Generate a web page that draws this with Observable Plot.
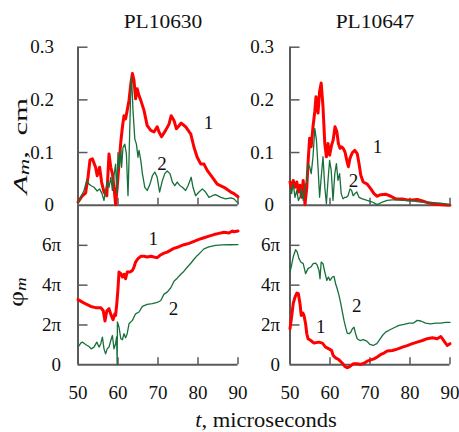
<!DOCTYPE html>
<html><head><meta charset="utf-8">
<script src="https://cdn.jsdelivr.net/npm/d3@7"></script>
<script src="https://cdn.jsdelivr.net/npm/@observablehq/plot@0.6"></script>
<style>
body{margin:0;background:#fff;}
#chart{position:relative;width:459px;height:432px;color:#111;overflow:hidden;font-family:"Liberation Serif",serif;}
#chart svg{position:absolute;}
.lbl{position:absolute;white-space:nowrap;line-height:1;font-family:"Liberation Serif",serif;}
</style></head><body><div id="chart"></div>
<script>
// ---------- data ----------
const panelTitles = ["PL10630", "PL10647"];
const tTicks = [50, 60, 70, 80, 90];
const ampTicks = [0, 0.1, 0.2, 0.3];
const phaseTicks = [0, 2, 4, 6]; // in units of π

// amplitude A_m (cm) vs t (microseconds): [t, A]
const amp1_PL10630 = [[50,0.006],[51.1,0.018],[51.9,0.023],[52.5,0.053],[53,0.086],[53.6,0.088],[54.4,0.072],[54.8,0.056],[55.4,0.072],[55.9,0.044],[56.5,0.025],[57.2,0.018],[57.75,0.097],[58.2,0.072],[58.6,0.06],[59,0.034],[59.4,0.001],[59.8,0.034],[60.25,0.078],[60.7,0.12],[61.1,0.148],[61.5,0.17],[61.9,0.164],[62.3,0.18],[62.75,0.199],[63.2,0.23],[63.6,0.25],[64,0.237],[64.4,0.202],[64.8,0.221],[65.25,0.208],[65.7,0.199],[66.5,0.18],[67.3,0.151],[68.2,0.142],[69,0.139],[69.8,0.149],[70.25,0.139],[70.9,0.13],[71.9,0.142],[72.75,0.154],[73.3,0.17],[74,0.161],[74.6,0.145],[75.25,0.151],[75.8,0.156],[76.9,0.149],[78.2,0.135],[79,0.11],[79.8,0.091],[80.7,0.078],[81.5,0.078],[82.3,0.066],[83.6,0.053],[84.8,0.04],[86.5,0.034],[88.2,0.025],[89,0.022],[90,0.016]];
const amp2_PL10630 = [[50,0.004],[50.7,0.015],[51.5,0.028],[52.2,0.047],[52.75,0.04],[53.3,0.037],[54,0.034],[54.8,0.027],[55.4,0.031],[56,0.022],[56.5,0.009],[56.9,0.028],[57.3,0.044],[57.75,0.034],[58.2,0.053],[58.6,0.028],[59,0.056],[59.4,0.078],[59.7,0.022],[60,0.1],[60.3,0.072],[60.7,0.104],[60.9,0.072],[61.25,0.11],[61.7,0.116],[62.1,0.097],[62.5,0.018],[62.75,0.085],[63.2,0.224],[63.4,0.243],[63.75,0.18],[64.2,0.126],[64.6,0.116],[65,0.091],[65.25,0.104],[65.7,0.085],[66.1,0.06],[66.7,0.034],[67.3,0.028],[68,0.04],[68.6,0.056],[69.2,0.063],[69.8,0.053],[70.4,0.025],[71.1,0.047],[71.7,0.06],[72.3,0.065],[73,0.06],[73.6,0.044],[74.2,0.037],[74.8,0.044],[75.5,0.037],[76.1,0.034],[76.9,0.028],[77.5,0.037],[78,0.047],[78.3,0.053],[78.75,0.034],[79.4,0.018],[80.25,0.025],[81.1,0.031],[81.9,0.025],[82.75,0.015],[83.6,0.018],[84.4,0.02],[85.7,0.015],[86.9,0.012],[88.2,0.014],[89,0.012],[90,0.004]];
const amp1_PL10647 = [[50,0.044],[50.4,0.031],[50.8,0.047],[51.25,0.034],[51.7,0.044],[52.1,0.025],[52.5,0.038],[52.9,0.015],[53.3,0.047],[53.75,0.001],[54.2,0.034],[54.5,0.079],[54.9,0.127],[55.3,0.111],[55.75,0.149],[56.2,0.178],[56.5,0.206],[57,0.175],[57.4,0.216],[57.8,0.232],[58.25,0.187],[58.7,0.117],[59.1,0.092],[59.5,0.117],[59.9,0.095],[60.4,0.114],[60.8,0.124],[61.25,0.149],[61.7,0.14],[62.1,0.117],[62.5,0.108],[62.9,0.111],[63.3,0.108],[63.75,0.101],[64.2,0.085],[64.6,0.073],[65,0.089],[65.6,0.1],[66.2,0.104],[66.8,0.098],[67.25,0.079],[67.7,0.057],[68.3,0.044],[69.3,0.04],[70.2,0.031],[71,0.022],[71.8,0.017],[72.7,0.02],[73.9,0.021],[75.2,0.017],[76.4,0.012],[78.1,0.012],[79.3,0.01],[80.6,0.01],[81.8,0.011],[83.1,0.008],[84.75,0.004],[86.4,0.002],[88.1,0.001],[90,0]];
const amp2_PL10647 = [[50,0.034],[50.4,0.022],[50.8,0.041],[51.25,0.015],[51.7,0.028],[52.1,0.009],[52.5,0.015],[52.9,0.031],[53.3,0.009],[53.75,0.034],[54.2,0.047],[54.5,0.079],[54.9,0.073],[55.3,0.06],[55.75,0.092],[56.2,0.146],[56.6,0.124],[57,0.073],[57.4,0.015],[57.8,0.053],[58.25,0.092],[58.7,0.034],[59.1,0.003],[59.5,0.047],[59.9,0.085],[60.3,0.066],[60.75,0.009],[61.2,0.06],[61.6,0.079],[62,0.047],[62.4,0.06],[62.8,0.022],[63.25,0.012],[63.7,0.015],[64.1,0.015],[64.5,0.018],[65,0.031],[65.4,0.028],[65.8,0.018],[66.25,0.022],[66.7,0.025],[67.25,0.015],[68.1,0.012],[69.3,0.009],[70.6,0.006],[71.8,0.001],[73.1,0.006],[74.3,0.009],[75.6,0.01],[76.8,0.01],[78.1,0.009],[79.3,0.009],[81,0.008],[82.7,0.006],[84.3,0.006],[86,0.005],[87.7,0.004],[90,0.001]];

// phase φ_m (units of π) vs t (microseconds): [t, φ/π]
const phase1_PL10630 = [[50,3.27],[51.1,3.15],[52.2,3.03],[53.2,2.93],[54.4,2.87],[55.7,2.87],[56.3,2.73],[56.75,2.2],[57.2,2.7],[57.75,2.82],[58.3,2.48],[58.75,2.26],[59.2,2.56],[59.4,2.48],[59.7,3.07],[60,3.82],[60.25,4.66],[60.7,4.58],[61.1,4.41],[61.5,4.54],[61.9,4.32],[62.3,4.66],[63,4.66],[63.6,4.74],[64,4.91],[64.4,5.16],[65,5.33],[65.7,5.45],[66.5,5.45],[67.3,5.41],[68.2,5.45],[69,5.41],[69.8,5.38],[70.5,5.5],[71.5,5.61],[72.3,5.66],[73.2,5.76],[74,5.85],[75.25,5.93],[76.5,6.03],[77.75,6.1],[79,6.2],[80.25,6.3],[81.5,6.38],[82.75,6.46],[84,6.54],[85.25,6.6],[86.5,6.66],[87.75,6.62],[88.6,6.72],[89,6.68],[90,6.72]];
const phase2_PL10630 = [[50,0.89],[50.7,1.09],[51.1,1.14],[51.9,1.02],[52.75,0.92],[53.3,0.8],[54,0.89],[54.7,1.14],[55.25,0.89],[55.7,1.06],[56.1,1.39],[56.5,0.8],[56.9,0.55],[57.3,0.8],[57.75,0.89],[58.2,1.22],[58.6,1.47],[59,0.8],[59.4,1.06],[59.65,1.4],[59.8,0],[59.85,2.15],[60.25,1.89],[60.7,1.31],[61.1,1.26],[61.5,1.56],[61.9,1.36],[62.3,1.56],[62.75,2.06],[63.6,2.23],[64.4,2.56],[65.25,2.65],[66.1,2.93],[67.3,3.03],[68.6,3.07],[69.8,3.13],[70.7,3.23],[71.5,3.55],[72.3,3.65],[73.2,3.87],[74,4.2],[74.8,4.35],[75.7,4.55],[76.5,4.7],[77.3,4.9],[78.2,5.1],[79,5.3],[79.8,5.48],[80.7,5.66],[81.5,5.82],[82.7,5.92],[84.4,6.0],[86,6.02],[88,6.03],[90,6.04]];
const phase1_PL10647 = [[50,1.81],[50.4,2.4],[50.8,3.07],[51.25,3.4],[51.7,3.6],[52.1,3.57],[52.5,3.07],[52.8,2.48],[53.2,2.6],[53.5,2.48],[53.9,2.06],[54.2,1.56],[54.5,1.31],[55.2,1.22],[56,1.09],[57.25,1.14],[58.1,1.09],[58.9,0.89],[59.75,0.8],[60.4,0.72],[60.8,0.47],[61.4,0.35],[62.25,0.25],[63.1,0.08],[63.7,-0.08],[64.3,-0.15],[65,-0.08],[65.8,0.05],[66.8,0.05],[67.7,0.02],[68.5,0.08],[69.3,0.18],[70.2,0.25],[71,0.3],[71.8,0.39],[72.7,0.52],[73.5,0.59],[74.3,0.69],[75.6,0.72],[76.8,0.79],[78.1,0.89],[79.3,0.96],[80.6,1.06],[81.8,1.14],[83.1,1.22],[84.3,1.31],[85.6,1.36],[86.8,1.31],[87.7,1.42],[88.1,1.31],[88.7,1.14],[89.3,0.97],[90,1.06]];
const phase2_PL10647 = [[50,4.66],[50.4,5.0],[50.8,5.41],[51.4,5.78],[51.8,5.66],[52.25,5.33],[52.7,5.16],[53.3,5.08],[53.9,4.58],[54.5,4.83],[55.2,4.91],[55.8,5.08],[56.4,5.11],[56.8,5.0],[57.25,4.74],[57.5,4.32],[57.8,5.16],[58.25,5.08],[58.7,4.66],[59.2,4.24],[59.6,4.41],[60,4.24],[60.6,4.41],[61,4.44],[61.4,4.07],[61.8,3.82],[62.25,3.49],[62.7,3.07],[63.1,2.65],[63.5,2.23],[63.9,1.89],[64.3,1.59],[64.75,1.56],[65.2,1.64],[65.6,1.81],[66,1.89],[66.4,1.56],[66.8,1.31],[67.5,1.22],[68.3,1.26],[69.2,1.19],[70,1.02],[70.8,0.97],[71.7,1.06],[72.25,1.22],[73.1,1.47],[73.9,1.64],[75,1.76],[76,1.86],[77.25,1.98],[78.5,2.03],[79.75,2.09],[80.8,2.09],[81.8,2.23],[82.7,2.2],[83.9,2.09],[85.2,2.06],[86.4,2.09],[87.7,2.09],[88.9,2.13],[90,2.13]];

// curve labels: [t, value, name]
const ampLabels_PL10630 = [[82.6,0.157,"1"],[71,0.079,"2"]];
const ampLabels_PL10647 = [[71.9,0.11,"1"],[65.9,0.047,"2"]];
const phaseLabels_PL10630 = [[68.8,6.3,"1"],[73.9,2.8,"2"]];
const phaseLabels_PL10647 = [[57.7,1.92,"1"],[66.7,2.98,"2"]];

// ---------- drawing ----------
const FONT = '"Liberation Serif", serif';
const RED = "#ff0000", GREEN = "#17703a", AXIS = "#5a5a5a";
const chart = document.getElementById("chart");

function panel({s1, s2, labels, yDomain, yTicks, yFmt, left, top, height, marginTop, marginBottom, tickPad, showX}) {
  const plotH = height - marginTop - marginBottom;
  const p = Plot.plot({
    width: 245, height, marginLeft: 77.5, marginRight: 7.5, marginTop, marginBottom,
    x: {domain: [50, 90], axis: null},
    y: {domain: yDomain, axis: null},
    style: {background: "transparent", overflow: "visible", fontFamily: FONT, fontSize: "19px", color: "#111"},
    marks: [
      Plot.ruleY(yTicks.filter(d => d !== 0), {y: d => d, x1: 50, x2: 52.5, stroke: AXIS, strokeWidth: 1.5}),
      Plot.ruleX(tTicks.filter(d => d !== 50), {x: d => d, insetTop: plotH - 7, stroke: AXIS, strokeWidth: 1.5}),
      Plot.ruleX([50], {stroke: AXIS, strokeWidth: 2}),
      Plot.ruleY([0], {stroke: AXIS, strokeWidth: 2}),
      Plot.axisY(yTicks, {tickSize: 0, tickPadding: tickPad, tickFormat: yFmt, label: null, fontSize: 19, fontFamily: FONT, fontVariant: "normal"}),
      showX ? Plot.axisX(tTicks, {tickSize: 0, tickPadding: 21, label: null, fontSize: 19, fontFamily: FONT, fontVariant: "normal"}) : null,
      Plot.line(s1, {x: d => d[0], y: d => d[1], stroke: RED, strokeWidth: 3}),
      Plot.line(s2, {x: d => d[0], y: d => d[1], stroke: GREEN, strokeWidth: 1.3}),
      Plot.text(labels, {x: d => d[0], y: d => d[1], text: d => d[2], fontSize: 19, fontFamily: FONT, fill: "#111"})
    ]
  });
  p.style.left = left + "px";
  p.style.top = top + "px";
  chart.appendChild(p);
}

const ampFmt = d => d === 0 ? "0" : d3.format(".1f")(d);
const phFmt = d => d === 0 ? "0" : d + "π";

panel({s1: amp1_PL10630, s2: amp2_PL10630, labels: ampLabels_PL10630, yDomain: [0, 0.3], yTicks: ampTicks, yFmt: ampFmt,
  left: 0, top: 0, height: 210, marginTop: 46.7, marginBottom: 5.3, tickPad: 24, showX: false});
panel({s1: amp1_PL10647, s2: amp2_PL10647, labels: ampLabels_PL10647, yDomain: [0, 0.3], yTicks: ampTicks, yFmt: ampFmt,
  left: 211.8, top: 0, height: 210, marginTop: 46.7, marginBottom: 5.3, tickPad: 16, showX: false});
panel({s1: phase1_PL10630, s2: phase2_PL10630, labels: phaseLabels_PL10630, yDomain: [0, 8], yTicks: phaseTicks, yFmt: phFmt,
  left: 0, top: 205, height: 227, marginTop: 0, marginBottom: 67.7, tickPad: 17, showX: true});
panel({s1: phase1_PL10647, s2: phase2_PL10647, labels: phaseLabels_PL10647, yDomain: [0, 8], yTicks: phaseTicks, yFmt: phFmt,
  left: 211.8, top: 205, height: 227, marginTop: 0, marginBottom: 67.7, tickPad: 10, showX: true});

// HTML labels: centred at (x, y); stretched along their reading direction to the reference length
function addLabel(html, x, y, size, rotate, targetLen) {
  const d = document.createElement("div");
  d.className = "lbl";
  d.innerHTML = html;
  d.style.fontSize = size + "px";
  d.style.left = x + "px";
  d.style.top = y + "px";
  chart.appendChild(d);
  const k = targetLen ? targetLen / d.offsetWidth : 1;
  d.style.transform = "translate(-50%,-50%)" + (rotate ? " rotate(-90deg)" : "") + ` scaleX(${k})`;
  return d;
}
addLabel(panelTitles[0], 162.5, 20.5, 19, false, 79);
addLabel(panelTitles[1], 375, 20.5, 19, false, 79);
addLabel('<i>A</i><sub style="font-size:14px;vertical-align:-2px"><i>m</i></sub>,&nbsp;&nbsp;cm', 21, 146, 19, true, 96);
addLabel('φ<sub style="font-size:14px;vertical-align:-3px"><i>m</i></sub>', 17, 292, 20, true, 30);
addLabel('<i>t</i>, microseconds', 266, 420, 20, false, 142);
</script></body></html>
